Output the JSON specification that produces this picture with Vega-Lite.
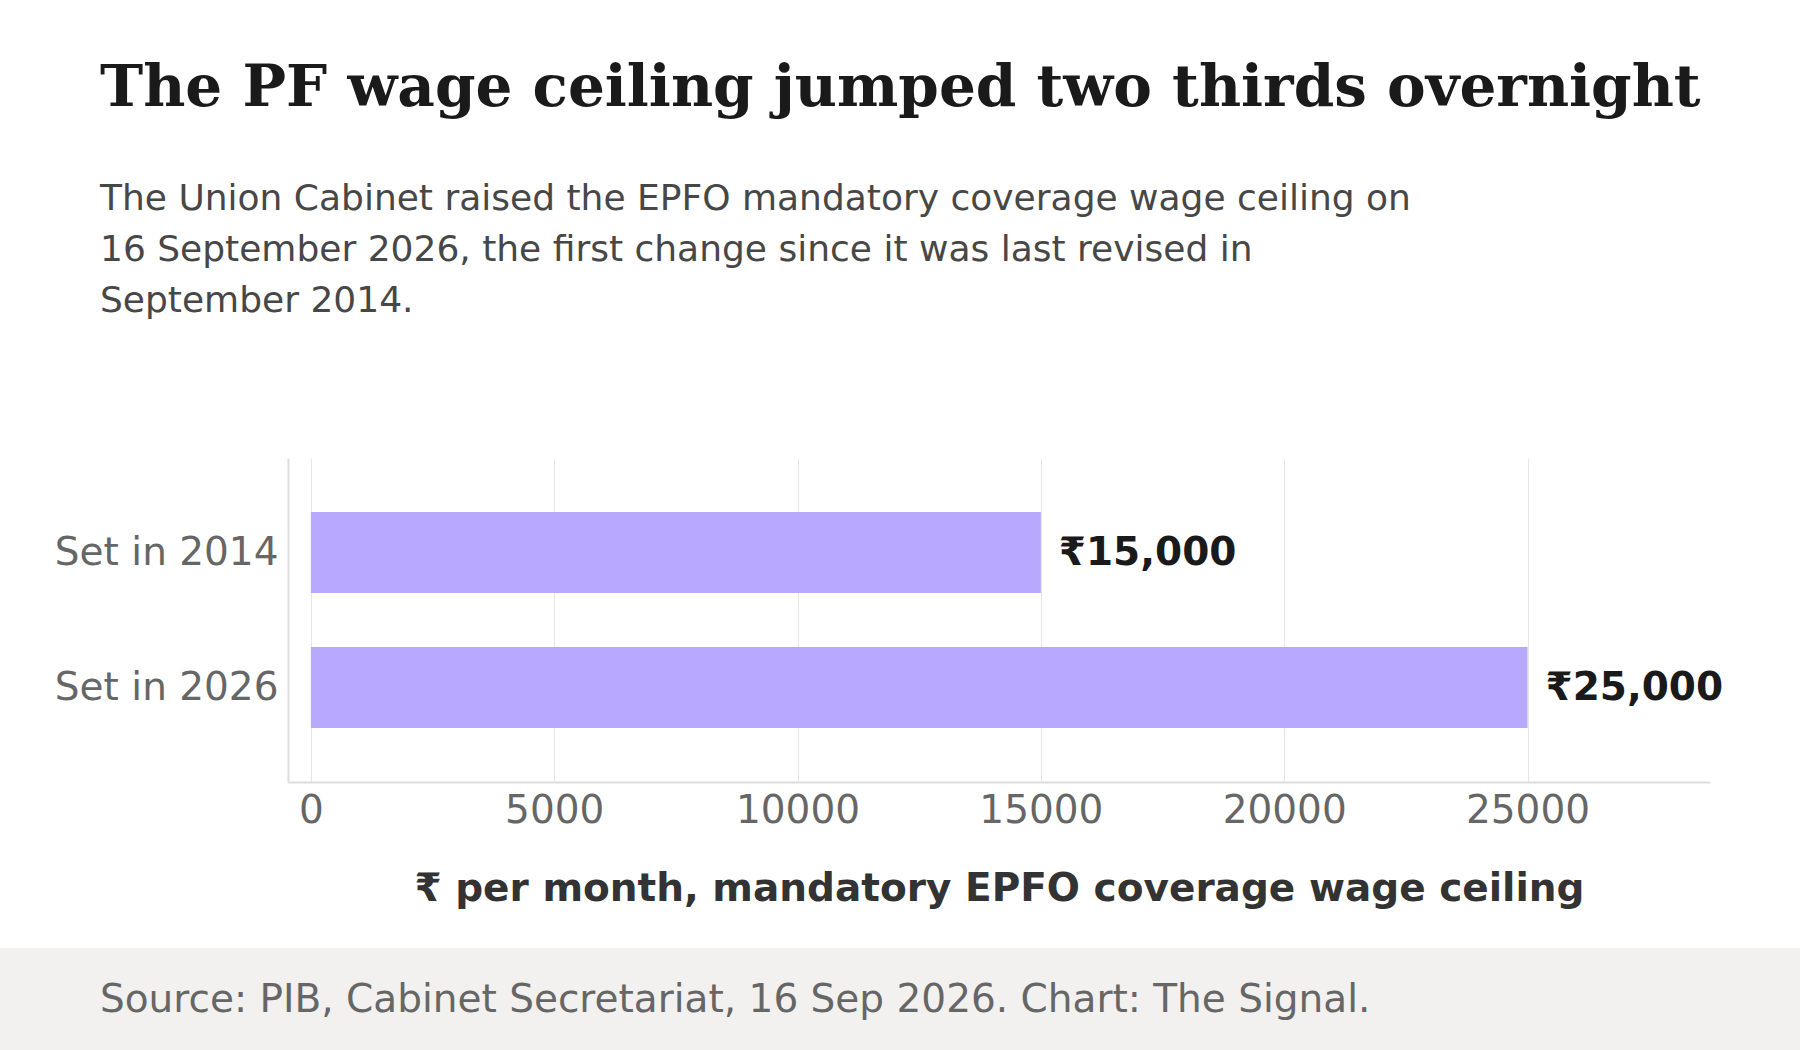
{
  "$schema": "https://vega.github.io/schema/vega-lite/v6.json",
  "description": "PF wage ceiling, 2014 vs 2026",
  "padding": {"left": 0, "right": 0, "top": 60, "bottom": 0},
  "background": "white",
  "spacing": 40,
  "config": {
    "font": "DejaVu Sans",
    "view": {"stroke": null}
  },
  "vconcat": [
    {
      "title": {
        "text": "The PF wage ceiling jumped two thirds overnight",
        "subtitle": [
          "The Union Cabinet raised the EPFO mandatory coverage wage ceiling on",
          "16 September 2026, the first change since it was last revised in",
          "September 2014."
        ],
        "anchor": "start",
        "frame": "group",
        "dx": 100,
        "font": "DejaVu Serif",
        "fontSize": 58,
        "fontWeight": "bold",
        "color": "#1a1a1a",
        "subtitleFont": "DejaVu Sans",
        "subtitleFontSize": 36,
        "subtitleColor": "#474747",
        "subtitleLineHeight": 51,
        "subtitlePadding": 64,
        "offset": 139
      },
      "data": {
        "values": [
          {"period": "Set in 2014", "ceiling": 15000, "label": "₹15,000"},
          {"period": "Set in 2026", "ceiling": 25000, "label": "₹25,000"}
        ]
      },
      "width": 1800,
      "height": 324,
      "encoding": {
        "y": {
          "field": "period",
          "type": "nominal",
          "sort": null,
          "scale": {"paddingInner": 0.4, "paddingOuter": 0.4},
          "axis": {
            "title": null,
            "offset": -288,
            "ticks": false,
            "labelFontSize": 39,
            "labelColor": "#666666",
            "labelPadding": 10,
            "labelLimit": 0,
            "domainColor": "#dddddd",
            "domainWidth": 2
          }
        },
        "x": {
          "field": "ceiling",
          "type": "quantitative",
          "scale": {"domain": [-470, 28750], "range": [288, 1710], "nice": false, "zero": false},
          "axis": {
            "title": "₹ per month, mandatory EPFO coverage wage ceiling",
            "values": [0, 5000, 10000, 15000, 20000, 25000],
            "format": "d",
            "ticks": false,
            "labelFontSize": 39,
            "labelColor": "#666666",
            "labelPadding": 9,
            "domainColor": "#dddddd",
            "domainWidth": 2,
            "gridColor": "#e6e6e6",
            "gridWidth": 1,
            "titleFontSize": 39,
            "titleFontWeight": "bold",
            "titleColor": "#333333",
            "titlePadding": 39
          }
        }
      },
      "layer": [
        {
          "mark": {"type": "bar", "color": "#b8a9fe"},
          "encoding": {"x2": {"datum": 0}}
        },
        {
          "mark": {
            "type": "text",
            "align": "left",
            "baseline": "middle",
            "dx": 18,
            "fontSize": 39,
            "fontWeight": "bold",
            "color": "#1a1a1a"
          },
          "encoding": {"text": {"field": "label"}}
        }
      ]
    },
    {
      "data": {
        "values": [
          {"note": "Source: PIB, Cabinet Secretariat, 16 Sep 2026. Chart: The Signal."}
        ]
      },
      "width": 1800,
      "height": 103,
      "view": {"fill": "#f2f1ef", "stroke": null},
      "mark": {
        "type": "text",
        "align": "left",
        "baseline": "middle",
        "fontSize": 39,
        "color": "#666666"
      },
      "encoding": {
        "x": {
          "datum": 100,
          "type": "quantitative",
          "scale": {"domain": [0, 1800], "range": [0, 1800]},
          "axis": null
        },
        "text": {"field": "note"}
      }
    }
  ]
}
